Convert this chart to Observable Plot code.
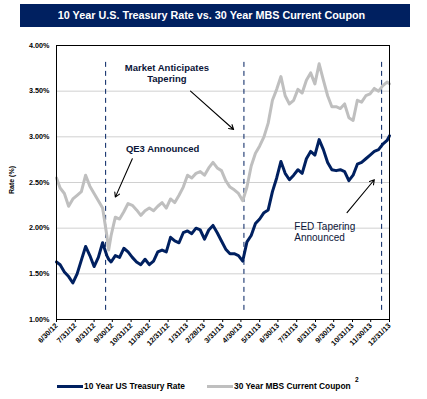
<!DOCTYPE html>
<html><head><meta charset="utf-8">
<script src="https://cdn.jsdelivr.net/npm/d3@7"></script>
<script src="https://cdn.jsdelivr.net/npm/@observablehq/plot@0.6"></script>
<style>
body{margin:0;background:#fff;font-family:"Liberation Sans",Arial,sans-serif;}
#wrap{position:relative;width:427px;height:399px;overflow:hidden;background:#fff;}
#title{position:absolute;left:20px;top:4px;width:390px;height:23px;background:#002060;color:#fff;font-weight:bold;font-size:10.8px;line-height:23px;text-align:center;box-sizing:border-box;padding-right:7px;white-space:nowrap;}
#chart{position:absolute;left:0;top:0;}
#ylab{position:absolute;left:11px;top:180px;transform:translate(-50%,-50%) rotate(-90deg);font-size:7px;font-weight:bold;color:#000;white-space:nowrap;}
.sw{position:absolute;height:3px;}
.lt{position:absolute;font-size:8.4px;font-weight:bold;color:#000;white-space:nowrap;line-height:10px;}
#chart g[aria-label="x-axis tick label"] text, #chart g[aria-label="y-axis tick label"] text{font-weight:bold;}
</style></head>
<body>
<div id="wrap">
  <div id="chart"></div>
  <div id="title">10 Year U.S. Treasury Rate vs. 30 Year MBS Current Coupon</div>
  <div id="ylab">Rate (%)</div>
  <div class="sw" style="left:57px;top:385px;width:26px;background:#002060"></div>
  <div class="lt" style="left:84px;top:381px">10 Year US Treasury Rate</div>
  <div class="sw" style="left:207px;top:385px;width:26px;background:#bfbfbf"></div>
  <div class="lt" style="left:234px;top:381px">30 Year MBS Current Coupon</div>
  <div class="lt" style="left:355px;top:375px;font-size:6.5px">2</div>
</div>
<script>
const dates = [
"2012-06-30","2012-07-06","2012-07-13","2012-07-20","2012-07-27","2012-08-03","2012-08-10","2012-08-17","2012-08-24","2012-08-31",
"2012-09-07","2012-09-14","2012-09-21","2012-09-24","2012-09-28","2012-10-05","2012-10-12","2012-10-19","2012-10-26","2012-11-02",
"2012-11-09","2012-11-16","2012-11-23","2012-11-30","2012-12-07","2012-12-14","2012-12-21","2012-12-28","2013-01-04","2013-01-11",
"2013-01-18","2013-01-25","2013-02-01","2013-02-08","2013-02-15","2013-02-22","2013-03-01","2013-03-08","2013-03-15","2013-03-22",
"2013-03-29","2013-04-05","2013-04-12","2013-04-19","2013-04-26","2013-05-03","2013-05-10","2013-05-17","2013-05-24","2013-05-31",
"2013-06-07","2013-06-14","2013-06-21","2013-06-28","2013-07-05","2013-07-12","2013-07-19","2013-07-26","2013-08-02","2013-08-09",
"2013-08-16","2013-08-23","2013-08-30","2013-09-06","2013-09-13","2013-09-20","2013-09-27","2013-10-04","2013-10-11","2013-10-18",
"2013-10-25","2013-11-01","2013-11-08","2013-11-15","2013-11-22","2013-11-29","2013-12-06","2013-12-13","2013-12-20","2013-12-27",
"2013-12-31"];

const treasury10y = [
1.63,1.60,1.52,1.47,1.40,1.50,1.65,1.80,1.70,1.58,
1.68,1.84,1.70,1.66,1.63,1.70,1.68,1.78,1.74,1.68,
1.63,1.60,1.66,1.60,1.64,1.74,1.76,1.74,1.90,1.86,
1.84,1.95,1.97,1.94,2.00,1.98,1.88,1.98,2.03,1.95,
1.86,1.77,1.72,1.72,1.70,1.64,1.85,1.92,2.05,2.10,
2.17,2.20,2.40,2.55,2.73,2.60,2.53,2.58,2.64,2.60,
2.76,2.84,2.80,2.97,2.86,2.72,2.64,2.63,2.64,2.62,
2.52,2.58,2.70,2.72,2.76,2.80,2.84,2.86,2.92,2.96,
3.01];

const mbsCoupon = [
2.55,2.44,2.38,2.24,2.32,2.36,2.40,2.58,2.46,2.38,
2.30,2.22,1.92,1.76,1.92,2.12,2.10,2.18,2.27,2.25,
2.20,2.14,2.19,2.22,2.19,2.24,2.28,2.22,2.32,2.28,
2.36,2.45,2.58,2.55,2.60,2.62,2.58,2.66,2.72,2.66,
2.63,2.52,2.45,2.42,2.38,2.30,2.45,2.68,2.82,2.90,
3.00,3.15,3.40,3.52,3.66,3.45,3.36,3.40,3.52,3.48,
3.62,3.70,3.58,3.80,3.62,3.45,3.33,3.33,3.31,3.36,
3.21,3.18,3.40,3.38,3.45,3.47,3.53,3.50,3.56,3.60,
3.58];

const tickDates = ["2012-06-30","2012-07-31","2012-08-31","2012-09-30","2012-10-31","2012-11-30","2012-12-31",
"2013-01-31","2013-02-28","2013-03-31","2013-04-30","2013-05-31","2013-06-30","2013-07-31","2013-08-31",
"2013-09-30","2013-10-31","2013-11-30","2013-12-31"];
const yTicks = [1.0,1.5,2.0,2.5,3.0,3.5,4.0];
const gridTicks = [1.5,2.0,2.5,3.0,3.5];

const eventDates = ["2012-09-19","2013-05-05","2013-12-18"];
const eventSpan = [1.10, 3.83];

const noteLabels = ["QE3 Announced","Market Anticipates\nTapering"];
const noteDates = ["2012-12-22","2012-12-29"];
const noteRates = [2.87, 3.70];
const fedLabel = ["FED Tapering\nAnnounced"];
const fedDate = ["2013-07-27"];
const fedRate = [1.96];

const arrowFrom = [["2012-11-02",2.76],["2013-02-06",3.50],["2013-10-22",2.17]];
const arrowTo   = [["2012-10-05",2.34],["2013-04-18",3.08],["2013-12-06",2.53]];

const P = d3.utcParse("%Y-%m-%d");
const tRows = dates.map((d,i)=>({date:P(d), rate:treasury10y[i]}));
const mRows = dates.map((d,i)=>({date:P(d), rate:mbsCoupon[i]}));
const events = eventDates.map(d=>({date:P(d)}));
const notes = noteLabels.map((l,i)=>({label:l, date:P(noteDates[i]), rate:noteRates[i]}));
const fed = fedLabel.map((l,i)=>({label:l, date:P(fedDate[i]), rate:fedRate[i]}));
const arrows = arrowFrom.map((f,i)=>({x1:P(f[0]), y1:f[1], x2:P(arrowTo[i][0]), y2:arrowTo[i][1]}));

const navy = "#002060", grey = "#bfbfbf", ink = "#0b1538";

const chart = Plot.plot({
  width:427, height:372,
  marginTop:45, marginBottom:53, marginLeft:56, marginRight:38,
  style:{fontFamily:"'Liberation Sans', Arial, sans-serif", fontSize:"7px", color:"#000", background:"transparent"},
  x:{type:"utc", domain:[P("2012-06-30"), P("2013-12-31")]},
  y:{domain:[1,4]},
  marks:[
    Plot.gridY(gridTicks, {stroke:"#d0d0d0", strokeOpacity:1, strokeWidth:1}),
    Plot.ruleX(events, {x:"date", y1:eventSpan[0], y2:eventSpan[1], stroke:navy, strokeWidth:1, strokeDasharray:"5,4"}),
    Plot.line(mRows, {x:"date", y:"rate", stroke:grey, strokeWidth:3}),
    Plot.line(tRows, {x:"date", y:"rate", stroke:navy, strokeWidth:3}),
    Plot.frame({stroke:"#000", strokeWidth:1}),
    Plot.axisY({ticks:yTicks, tickFormat:d=>d.toFixed(2)+"%", tickSize:0, tickPadding:7, label:null, fontSize:7.2}),
    Plot.axisX({ticks:tickDates.map(P), tickFormat:d3.utcFormat("%-m/%-d/%y"), tickRotate:-45, tickSize:3, tickPadding:2, label:null, fontSize:7.3}),
    Plot.arrow(arrows, {x1:"x1", y1:"y1", x2:"x2", y2:"y2", stroke:"#000", strokeWidth:1.1, headLength:7}),
    Plot.text(notes, {x:"date", y:"rate", text:"label", fill:ink, fontSize:9.5, fontWeight:"bold", textAnchor:"middle", lineHeight:1.15}),
    Plot.text(fed, {x:"date", y:"rate", text:"label", fill:ink, fontSize:10, textAnchor:"start", lineHeight:1.07})
  ]
});
document.getElementById("chart").appendChild(chart);
</script>
</body></html>
